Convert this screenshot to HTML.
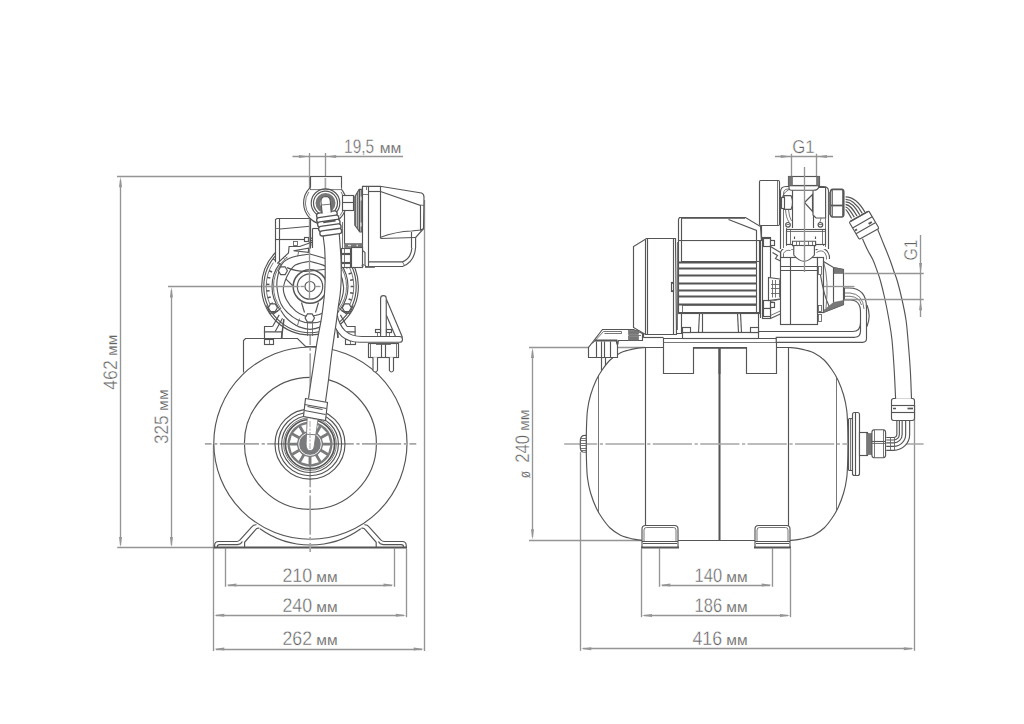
<!DOCTYPE html>
<html lang="ru"><head><meta charset="utf-8"><title>Габаритные размеры</title>
<style>
html,body{margin:0;padding:0;background:#fff}
svg{display:block}
.d{fill:none;stroke:#555;stroke-width:1.15}
.dw{fill:#fff;stroke:#555;stroke-width:1.15}
.dk{fill:#777;stroke:#666;stroke-width:.6}
.d2{fill:none;stroke:#555;stroke-width:2}
.d3{fill:none;stroke:#606060;stroke-width:.85}
.m{fill:none;stroke:#959595;stroke-width:1.35}
.c{fill:none;stroke:#a6a6a6;stroke-width:1.7;stroke-dasharray:39.2 2.6 3.2 2.4}
.a{fill:#959595;stroke:none}
.t{font-family:"Liberation Sans",sans-serif;fill:#626262;stroke:#fff;stroke-width:.4;paint-order:fill stroke;text-rendering:geometricPrecision}
.tu{stroke-width:.15}
</style></head><body>
<svg width="1024" height="724" viewBox="0 0 1024 724">
<rect width="1024" height="724" fill="#fff"/>
<g id="left-dims">
<line x1="117" y1="176.5" x2="310" y2="176.5" class="m" />
<line x1="117.25" y1="547.5" x2="215" y2="547.5" class="m" />
<line x1="120.5" y1="180" x2="120.5" y2="545" class="m" />
<polygon points="120.5,176.8 119.0,187.3 122.0,187.3" class="a"/>
<polygon points="120.5,547.6 119.0,537.1 122.0,537.1" class="a"/>
<text transform="translate(116.6 389.70) rotate(-90) scale(0.900 1)" class="t" font-size="19.6">462</text>
<text transform="translate(116.6 355.90) rotate(-90) scale(1.056 1)" class="t tu" font-size="14.6">мм</text>
<line x1="168" y1="286.5" x2="262" y2="286.5" class="m" />
<line x1="171.5" y1="290" x2="171.5" y2="545" class="m" />
<polygon points="171.4,287 169.9,297.5 172.9,297.5" class="a"/>
<polygon points="171.4,547.6 169.9,537.1 172.9,537.1" class="a"/>
<text transform="translate(167.75 444.05) rotate(-90) scale(0.875 1)" class="t" font-size="19.6">325</text>
<text transform="translate(167.75 410.90) rotate(-90) scale(1.086 1)" class="t tu" font-size="14.6">мм</text>
<line x1="309.5" y1="153" x2="309.5" y2="176.5" class="m" />
<line x1="325.5" y1="153" x2="325.5" y2="178" class="m" />
<line x1="292.5" y1="156.5" x2="403" y2="156.5" class="m" />
<polygon points="309.4,156.6 298.9,155.1 298.9,158.1" class="a"/>
<polygon points="325.7,156.6 336.2,155.1 336.2,158.1" class="a"/>
<text transform="translate(344.10 153.1) scale(0.786 1)" class="t" font-size="19.6">19,5</text>
<text transform="translate(379.70 153.1) scale(1.076 1)" class="t tu" font-size="14.6">мм</text>
<line x1="213.5" y1="444" x2="213.5" y2="651" class="m" />
<line x1="225.5" y1="548.5" x2="225.5" y2="586.8" class="m" />
<line x1="394.5" y1="548.5" x2="394.5" y2="586.8" class="m" />
<line x1="406.5" y1="548.5" x2="406.5" y2="617.2" class="m" />
<line x1="424.5" y1="200" x2="424.5" y2="651" class="m" />
<line x1="228" y1="585.5" x2="392" y2="585.5" class="m" />
<polygon points="225.9,585 236.4,583.5 236.4,586.5" class="a"/>
<polygon points="394,585 383.5,583.5 383.5,586.5" class="a"/>
<line x1="216" y1="615.5" x2="404" y2="615.5" class="m" />
<polygon points="213.8,615.3 224.3,613.8 224.3,616.8" class="a"/>
<polygon points="406.3,615.3 395.8,613.8 395.8,616.8" class="a"/>
<line x1="216" y1="649.5" x2="422" y2="649.5" class="m" />
<polygon points="213.8,649 224.3,647.5 224.3,650.5" class="a"/>
<polygon points="424.2,649 413.7,647.5 413.7,650.5" class="a"/>
<text transform="translate(282.50 581.6) scale(0.906 1)" class="t" font-size="19.6">210</text>
<text transform="translate(316.30 581.6) scale(1.061 1)" class="t tu" font-size="14.6">мм</text>
<text transform="translate(282.50 612.2) scale(0.906 1)" class="t" font-size="19.6">240</text>
<text transform="translate(316.30 612.2) scale(1.061 1)" class="t tu" font-size="14.6">мм</text>
<text transform="translate(282.50 645.2) scale(0.906 1)" class="t" font-size="19.6">262</text>
<text transform="translate(316.30 645.2) scale(1.061 1)" class="t tu" font-size="14.6">мм</text>
</g>
<g id="left-draw">
<path d="M243.5 372.5 L243.5 340.5 L245.5 338.5 L297.5 338.5 L305.5 346.5 L316.5 346.5" class="dw" />
<path d="M256.5 524.8 Q253.5 524.6 252.0 526.6 L239.8 540 Q238.6 541.5 236.5 541.5 L218.5 541.5 Q214.6 541.5 214.6 545.5 L214.6 547.5" class="d" />
<path d="M259.5 528.3 Q256.8 527.8 255.4 529.8 L244.6 542.3 L244.6 547.3" class="d" />
<path d="M217.2 547.3 Q217.2 544.6 219.5 544.6 L237.5 544.6 Q241.0 544.4 242.4 541.6" class="d" />
<path d="M364.3 524.8 Q367.3 524.6 368.8 526.6 L381.0 540 Q382.2 541.5 384.3 541.5 L402.3 541.5 Q406.2 541.5 406.2 545.5 L406.2 547.5" class="d" />
<path d="M361.3 528.3 Q364.0 527.8 365.4 529.8 L376.2 542.3 L376.2 547.3" class="d" />
<path d="M403.6 547.3 Q403.6 544.6 401.3 544.6 L383.3 544.6 Q379.8 544.4 378.4 541.6" class="d" />
<line x1="213.5" y1="547.5" x2="407" y2="547.5" class="d2" />
<path d="M260 528.75 A86.3 86.3 0 0 0 360.8 528.75" class="d" />
<ellipse cx="310.4" cy="443.1" rx="96.6" ry="96.1" class="dw"/>
<circle cx="310.4" cy="443.4" r="66" class="d" />
<line x1="204.9" y1="443.9" x2="416.3" y2="443.9" class="c" stroke-dashoffset="32.5"/>
<line x1="310.2" y1="552" x2="310.2" y2="178" class="c" stroke-dashoffset="30.1"/>
<circle cx="310" cy="444.1" r="35" class="d" />
<circle cx="310" cy="444.1" r="31.6" class="d" />
<circle cx="310" cy="444.1" r="28.4" class="d" />
<circle cx="310" cy="444.1" r="26.3" class="d3" />
<circle cx="310" cy="444.1" r="24.6" class="d" style="stroke-width:1.7"/>
<circle cx="310" cy="444.1" r="22.6" class="dk" style="stroke:none;fill:#7a7b7d"/>
<polygon points="323.02,445.55 330.25,445.55 328.26,452.97 322.00,449.35" fill="#fff"/>
<polygon points="320.55,451.87 326.81,455.48 321.38,460.91 317.77,454.65" fill="#fff"/>
<polygon points="315.25,456.10 318.87,462.36 311.45,464.35 311.45,457.12" fill="#fff"/>
<polygon points="308.55,457.12 308.55,464.35 301.13,462.36 304.75,456.10" fill="#fff"/>
<polygon points="302.23,454.65 298.62,460.91 293.19,455.48 299.45,451.87" fill="#fff"/>
<polygon points="298.00,449.35 291.74,452.97 289.75,445.55 296.98,445.55" fill="#fff"/>
<polygon points="296.98,442.65 289.75,442.65 291.74,435.23 298.00,438.85" fill="#fff"/>
<polygon points="299.45,436.33 293.19,432.72 298.62,427.29 302.23,433.55" fill="#fff"/>
<polygon points="304.75,432.10 301.13,425.84 308.55,423.85 308.55,431.08" fill="#fff"/>
<polygon points="311.45,431.08 311.45,423.85 318.87,425.84 315.25,432.10" fill="#fff"/>
<polygon points="317.77,433.55 321.38,427.29 326.81,432.72 320.55,436.33" fill="#fff"/>
<polygon points="322.00,438.85 328.26,435.23 330.25,442.65 323.02,442.65" fill="#fff"/>
<circle cx="310" cy="444.1" r="11.3" class="d" style="stroke:#fff;stroke-width:.9"/>
</g>
<g id="left-pump">
<circle cx="310" cy="286.5" r="48.4" class="dw" />
<circle cx="310" cy="286.5" r="46.2" class="d" />
<path d="M272.6 326.5 L279.2 314.9 M275.2 331.5 L282.5 318.2" class="d" />
<path d="M281.5 337.8 L283.9 319.2" class="d" style="stroke-width:1.5"/>
<path d="M347.0 326.5 L340.40000000000003 314.9 M344.40000000000003 331.5 L337.1 318.2" class="d" />
<path d="M338.1 337.8 L335.70000000000005 319.2" class="d" style="stroke-width:1.5"/>
<path d="M264.5 338 L264.5 326.5 L272.6 326.5 M263.8 331.8 L281.9 331.8 L281.9 338" class="d" />
<rect x="264.5" y="339.5" width="9.0" height="5.0" class="dw" />
<line x1="269.5" y1="339.8" x2="269.5" y2="344.1" class="d3" />
<path d="M355.1 338 L355.1 326.5 L347 326.5 M355.8 331.8 L337.7 331.8 L337.7 338" class="d" />
<rect x="345.5" y="339.5" width="10.0" height="5.0" class="dw" />
<line x1="350.5" y1="339.8" x2="350.5" y2="344.1" class="d3" />
<path d="M279.65 309.37 A38 38 0 0 1 279.65 263.63" class="d" />
<path d="M280.85 308.47 A36.5 36.5 0 0 1 280.85 264.53" class="d3" />
<path d="M273.27 310.36 A43.8 43.8 0 0 1 273.27 262.64" class="d3" />
<path d="M280.85 308.47 L273.10 314.30" class="d" />
<path d="M280.85 264.53 L273.10 258.70" class="d" />
<path d="M340.35 263.63 A38 38 0 0 1 340.35 309.37" class="d" />
<path d="M339.15 264.53 A36.5 36.5 0 0 1 339.15 308.47" class="d3" />
<path d="M346.73 262.64 A43.8 43.8 0 0 1 346.73 310.36" class="d3" />
<path d="M339.15 264.53 L346.90 258.70" class="d" />
<path d="M339.15 308.47 L346.90 314.30" class="d" />
<path d="M272.91 303.01 L269.99 304.32" class="d" style="stroke-width:1.5"/>
<path d="M270.78 297.01 L267.69 297.84" class="d" style="stroke-width:1.5"/>
<path d="M269.62 290.74 L266.44 291.08" class="d" style="stroke-width:1.5"/>
<path d="M269.46 284.38 L266.26 284.21" class="d" style="stroke-width:1.5"/>
<path d="M270.29 278.06 L267.16 277.39" class="d" style="stroke-width:1.5"/>
<path d="M272.10 271.95 L269.11 270.80" class="d" style="stroke-width:1.5"/>
<path d="M346.17 268.07 L349.03 266.62" class="d" style="stroke-width:1.5"/>
<path d="M348.61 273.95 L351.66 272.97" class="d" style="stroke-width:1.5"/>
<path d="M350.10 280.15 L353.26 279.65" class="d" style="stroke-width:1.5"/>
<path d="M350.60 286.50 L353.80 286.50" class="d" style="stroke-width:1.5"/>
<path d="M350.10 292.85 L353.26 293.35" class="d" style="stroke-width:1.5"/>
<path d="M348.61 299.05 L351.66 300.03" class="d" style="stroke-width:1.5"/>
<path d="M346.17 304.93 L349.03 306.38" class="d" style="stroke-width:1.5"/>
<path d="M280.70 310.23 C281.41 311.25 283.39 314.54 284.93 316.38 C286.47 318.21 287.57 319.48 289.95 321.23 C292.33 322.98 295.84 325.53 299.18 326.88 C302.52 328.22 306.39 329.30 310.00 329.30 C313.61 329.30 317.48 328.22 320.82 326.88 C324.16 325.53 327.67 322.98 330.05 321.23 C332.43 319.48 333.53 318.21 335.07 316.38 C336.61 314.54 338.59 311.25 339.30 310.23" class="d" />
<path d="M275.4 263.8 L275.4 219.5 L277 218 L310 218 L310 246.5 L289.1 246.5 L288.5 252.9 L277.25 263.8 Z" class="dw" style="stroke:none"/>
<path d="M275.5 262.2 L275.5 219.5 L277 218.5 L310 218.5" class="d" />
<line x1="279.5" y1="218.5" x2="279.5" y2="262" class="d" />
<path d="M280 229 L310 226.3" class="d" />
<line x1="275.4" y1="239.5" x2="304.75" y2="239.5" class="d" />
<line x1="275.4" y1="228.5" x2="280" y2="228.5" class="d3" />
<rect x="304.5" y="237.5" width="4.0" height="4.0" class="dw" />
<rect x="293.5" y="241.5" width="4.0" height="4.0" class="d3" />
<path d="M310.00 254.00 C307.17 254.51 297.60 255.50 293.00 257.06 C288.40 258.62 284.91 260.39 282.42 263.36 C279.93 266.33 278.97 271.01 278.05 274.87 C277.13 278.73 276.45 281.75 276.90 286.50 C277.35 291.25 278.91 299.00 280.73 303.40 C282.55 307.80 284.97 310.17 287.82 312.93 C290.67 315.69 294.13 318.29 297.82 319.95 C301.52 321.61 305.90 322.77 310.00 322.90 C314.10 323.03 318.27 322.59 322.45 320.70 C326.63 318.82 331.85 315.36 335.10 311.60 C338.35 307.84 340.55 302.31 341.95 298.13 C343.35 293.94 343.84 290.76 343.50 286.50 C343.16 282.24 341.96 276.77 339.91 272.55 C337.86 268.34 336.20 264.31 331.21 261.22 C326.23 258.13 313.54 255.20 310.00 254.00 Z" class="d" />
<path d="M310.00 261.30 C307.21 262.18 297.70 262.38 293.29 266.58 C288.87 270.78 284.61 280.93 283.50 286.50 C282.39 292.07 284.58 295.89 286.62 300.00 C288.66 304.11 292.72 308.54 295.75 311.18 C298.78 313.82 302.45 314.93 304.83 315.85 C307.20 316.77 306.68 317.33 310.00 316.70 C313.32 316.07 320.71 314.75 324.75 312.05 C328.79 309.35 332.21 304.76 334.25 300.50 C336.29 296.24 337.98 291.90 337.00 286.50 C336.02 281.10 332.88 272.32 328.38 268.12 C323.88 263.92 313.06 262.44 310.00 261.30 Z" class="d" />
<circle cx="310" cy="286.5" r="16.8" class="d" style="stroke-width:1.5"/>
<circle cx="310" cy="286.5" r="12.7" class="d" />
<circle cx="310" cy="286.5" r="5" class="d" />
<line x1="300.5" y1="286.5" x2="305" y2="286.5" class="m" />
<line x1="315" y1="286.5" x2="320.5" y2="286.5" class="m" />
<line x1="285.75" y1="278.9" x2="292.8" y2="285.75" class="d" />
<path d="M301.5 302.5 L304.5 312.5" class="d" />
<path d="M318.5 302.5 L315.5 312.5" class="d" />
<path d="M287 267.6 Q298 272.5 311 271 T325 269.3" class="d" />
<line x1="307.5" y1="323" x2="307.5" y2="336" class="d3" />
<line x1="312.5" y1="323" x2="312.5" y2="336" class="d3" />
<path d="M299.5 318.5 L297.5 325.5 L295.5 325.5" class="d3" />
<path d="M266.5 305.5 L270.3 313.5 L278 311" class="d" />
<path d="M353.3 305.5 L349.5 313.5 L341.8 311" class="d" />
<path d="M287.4 270.7 L285.15 274.6 L280.65 274.6 L278.4 270.7 L280.65 266.8 L285.15 266.8 Z" class="dw" />
<path d="M277.4 307.7 L275.15 311.6 L270.65 311.6 L268.4 307.7 L270.65 303.8 L275.15 303.8 Z" class="dw" />
<path d="M314.5 318.0 L312.15 322.07 L307.45 322.07 L305.1 318.0 L307.45 313.93 L312.15 313.93 Z" class="dw" />
<path d="M351.3 307.7 L349.05 311.6 L344.55 311.6 L342.3 307.7 L344.55 303.8 L349.05 303.8 Z" class="dw" />
<line x1="262" y1="286.5" x2="299.5" y2="286.5" class="m" />
<line x1="309.5" y1="176.5" x2="309.5" y2="300" class="m" />
<path d="M277.25 263.5 L288.5 252.9 L289.1 246.5 L299.75 246.5 L312.25 242 L312.25 245.5 L322 245.5" class="d" />
<path d="M279.3 265 L287.5 256.8" class="d3" />
<path d="M283.5 258 L285.5 260.5 M285.3 256.2 L287.3 258.7" class="d3" />
<path d="M293.5 250.8 L308.5 248.2 L308.5 252.3 Z" class="d" />
<path d="M298.5 252 L297.7 256.5" class="d3" />
<path d="M310.5 248.5 L310.5 188.5" class="d" />
<rect x="312.5" y="228.5" width="30.0" height="22.0" class="dw" style="stroke:none"/>
<line x1="344.5" y1="212" x2="344.5" y2="243.9" class="d" />
<line x1="342.5" y1="222" x2="342.5" y2="250" class="d3" />
<line x1="312.5" y1="228.5" x2="322" y2="228.5" class="d" />
<line x1="312.5" y1="228.5" x2="312.5" y2="248" class="d" />
<circle cx="325" cy="203.1" r="21.4" class="dw" />
<rect x="310.5" y="176.5" width="31.0" height="13.0" class="dw" />
<line x1="310.6" y1="188.5" x2="341.3" y2="188.5" class="d" style="stroke:#fff;stroke-width:1.6"/>
<line x1="325.4" y1="178" x2="325.4" y2="190" class="c" />
<path d="M309.99 215.70 A19.6 19.6 0 0 1 308.94 191.86" class="d3" />
<path d="M341.06 191.86 A19.6 19.6 0 0 1 340.01 215.70" class="d3" />
<circle cx="325.5" cy="203.1" r="14.3" class="d" />
<circle cx="325.5" cy="203.1" r="12" class="d" />
<circle cx="325.5" cy="203.1" r="7.8" class="d" style="stroke-width:4.4;stroke:#777"/>
<rect x="342.5" y="195.5" width="11.0" height="15.0" class="dw" />
<line x1="342.5" y1="202.5" x2="353.5" y2="202.5" class="d" />
</g>
<g id="left-ctrl">
<path d="M362.5 189.3 L359.2 189.3 L354.8 196.6 L354.8 225 L359.8 232 L362.5 232 Z" class="dw" style="fill:#c4c4c4"/>
<line x1="355.5" y1="195" x2="355.5" y2="226.5" class="d3" />
<line x1="357.5" y1="192" x2="357.5" y2="229" class="d3" />
<line x1="359.5" y1="189.5" x2="359.5" y2="231.5" class="d" style="stroke-width:1.4"/>
<line x1="361.5" y1="189.5" x2="361.5" y2="232" class="d3" />
<rect x="360.5" y="196.5" width="1.0" height="4.0" class="dw" style="stroke:none"/>
<rect x="360.5" y="222.5" width="1.0" height="4.0" class="dw" style="stroke:none"/>
<path d="M362.5 186.3 L380 186.3 L421.5 193 Q424 194 424 197 L423.5 228.75 L415.6 237.5 L415.6 247.5 Q414.5 262 402.5 266.5 L366 266.5 L365 265 L365 252.5 L362.5 250.5 Z" class="dw" />
<line x1="368.5" y1="186.3" x2="368.5" y2="266" class="d" />
<line x1="380.5" y1="186.3" x2="380.5" y2="238.3" class="d" />
<line x1="368.5" y1="191.5" x2="380" y2="191.5" class="d" />
<line x1="362.5" y1="194.5" x2="368.5" y2="194.5" class="d3" />
<path d="M380.5 191.5 L420.5 205.5 L420.5 230.5" class="d" />
<line x1="420.6" y1="205" x2="424" y2="205.5" class="d3" />
<path d="M380 237.5 Q396 231.5 411.5 231 L420.6 230 L423.5 228.75" class="d" />
<path d="M380.5 238.5 L415.5 237.5" class="d" />
<line x1="411.5" y1="232" x2="411.5" y2="248" class="d" />
<path d="M411.9 248 Q411 258.5 402.5 261.9 L368.75 261.9" class="d" />
<line x1="402.5" y1="261.9" x2="404.5" y2="265.7" class="d3" />
<line x1="366.5" y1="186.5" x2="366.5" y2="190" class="d3" />
<rect x="365.5" y="266.5" width="9.0" height="1.0" class="d3" />
<rect x="344.5" y="243.5" width="18.0" height="4.0" class="dk" />
<line x1="348" y1="245.5" x2="351" y2="245.5" class="d" style="stroke:#ddd;stroke-width:1.4"/>
<line x1="356.5" y1="245.5" x2="358" y2="245.5" class="d" style="stroke:#ddd;stroke-width:1.4"/>
<rect x="351.5" y="247.5" width="11.0" height="20.0" class="dw" />
<rect x="341.5" y="248.5" width="9.0" height="5.0" class="dw" />
<rect x="341.5" y="254.5" width="9.0" height="8.0" class="dw" />
<rect x="341.5" y="263.5" width="9.0" height="4.0" class="dw" />
<line x1="344.5" y1="248" x2="344.5" y2="267.5" class="d3" />
<circle cx="363" cy="265.3" r="1" class="d3" />
<path d="M380.6 337 L380.6 298.5 Q380.6 295.6 383.4 295.6 Q386.25 295.6 386.25 298.5 L386.25 337" class="dw" />
<path d="M386.5 299.5 L402.5 337.5" class="d" />
<path d="M386.5 315.5 L395.5 336.5" class="d" />
<rect x="375.5" y="329.5" width="5.0" height="3.0" class="dw" />
<rect x="386.5" y="329.5" width="5.0" height="3.0" class="dw" />
<line x1="377.5" y1="332" x2="377.5" y2="336.5" class="d3" />
<line x1="389.5" y1="332" x2="389.5" y2="336.5" class="d3" />
<path d="M337 314 Q341 336.5 362 336.5 L399.5 336.5 Q402.5 336.5 402.5 339.4 Q402.5 342.25 399.5 342.25 L360 342.25 Q337 342.25 332.5 318" class="dw" />
<rect x="368.5" y="343.5" width="30.0" height="14.0" class="dw" />
<line x1="370.5" y1="343" x2="370.5" y2="357.25" class="d3" />
<line x1="396.5" y1="343" x2="396.5" y2="357.25" class="d3" />
<line x1="381.5" y1="343" x2="381.5" y2="357.25" class="d" />
<line x1="385.5" y1="343" x2="385.5" y2="357.25" class="d" />
<rect x="376.5" y="343.5" width="14.0" height="1.0" class="d3" />
<path d="M373 357.25 L373 370.5 Q375.25 373.5 377.5 370.5 L377.5 357.25" class="dw" />
<path d="M389.4 357.25 L389.4 370.5 Q391.5 373.5 393.5 370.5 L393.5 357.25" class="dw" />
</g>
<g id="left-hose">
<path d="M322.30 222.00 C322.45 224.33 322.82 231.67 323.20 236.00 C323.58 240.33 324.28 244.17 324.60 248.00 C324.92 251.83 325.00 255.00 325.10 259.00 C325.20 263.00 325.20 268.17 325.20 272.00 C325.20 275.83 325.20 278.67 325.10 282.00 C325.00 285.33 324.88 288.33 324.60 292.00 C324.32 295.67 323.95 299.47 323.40 304.00 C322.85 308.53 321.98 314.87 321.30 319.20 C320.62 323.53 320.02 326.13 319.30 330.00 C318.58 333.87 317.63 338.73 317.00 342.40 C316.37 346.07 316.15 347.73 315.50 352.00 C314.85 356.27 313.81 363.33 313.10 368.00 C312.39 372.67 312.02 374.92 311.25 380.00 C310.48 385.08 308.96 395.42 308.50 398.50 L325.50 401.70 C326.00 398.08 327.77 385.62 328.50 380.00 C329.23 374.38 329.33 372.67 329.90 368.00 C330.47 363.33 331.33 356.27 331.90 352.00 C332.47 347.73 332.77 346.07 333.30 342.40 C333.83 338.73 334.53 333.87 335.10 330.00 C335.67 326.13 336.15 323.20 336.70 319.20 C337.25 315.20 337.82 310.20 338.40 306.00 C338.98 301.80 339.75 298.00 340.20 294.00 C340.65 290.00 340.93 286.00 341.10 282.00 C341.27 278.00 341.22 273.83 341.20 270.00 C341.18 266.17 341.15 262.67 341.00 259.00 C340.85 255.33 340.57 251.83 340.30 248.00 C340.03 244.17 339.70 240.33 339.40 236.00 C339.10 231.67 338.65 224.33 338.50 222.00 Z" class="dw" style="stroke:none"/>
<path d="M322.30 222.00 C322.45 224.33 322.82 231.67 323.20 236.00 C323.58 240.33 324.28 244.17 324.60 248.00 C324.92 251.83 325.00 255.00 325.10 259.00 C325.20 263.00 325.20 268.17 325.20 272.00 C325.20 275.83 325.20 278.67 325.10 282.00 C325.00 285.33 324.88 288.33 324.60 292.00 C324.32 295.67 323.95 299.47 323.40 304.00 C322.85 308.53 321.98 314.87 321.30 319.20 C320.62 323.53 320.02 326.13 319.30 330.00 C318.58 333.87 317.63 338.73 317.00 342.40 C316.37 346.07 316.15 347.73 315.50 352.00 C314.85 356.27 313.81 363.33 313.10 368.00 C312.39 372.67 312.02 374.92 311.25 380.00 C310.48 385.08 308.96 395.42 308.50 398.50" class="d" />
<path d="M325.50 401.70 C326.00 398.08 327.77 385.62 328.50 380.00 C329.23 374.38 329.33 372.67 329.90 368.00 C330.47 363.33 331.33 356.27 331.90 352.00 C332.47 347.73 332.77 346.07 333.30 342.40 C333.83 338.73 334.53 333.87 335.10 330.00 C335.67 326.13 336.15 323.20 336.70 319.20 C337.25 315.20 337.82 310.20 338.40 306.00 C338.98 301.80 339.75 298.00 340.20 294.00 C340.65 290.00 340.93 286.00 341.10 282.00 C341.27 278.00 341.22 273.83 341.20 270.00 C341.18 266.17 341.15 262.67 341.00 259.00 C340.85 255.33 340.57 251.83 340.30 248.00 C340.03 244.17 339.70 240.33 339.40 236.00 C339.10 231.67 338.65 224.33 338.50 222.00" class="d" />
<g transform="rotate(-8 329 224)">
<rect x="317.8" y="211.8" width="20.80000000000001" height="5.2" rx="2.5" class="dw" style="stroke-width:1.35"/>
<rect x="317.3" y="216.2" width="22.30000000000001" height="5.2" rx="2.5" class="dw" style="stroke-width:1.35"/>
<rect x="317.6" y="220.6" width="22.599999999999966" height="5.2" rx="2.5" class="dw" style="stroke-width:1.35"/>
<rect x="318" y="225.2" width="22.600000000000023" height="5.2" rx="2.5" class="dw" style="stroke-width:1.35"/>
<rect x="318.6" y="229.8" width="22.0" height="5.2" rx="2.5" class="dw" style="stroke-width:1.35"/>
<line x1="323.5" y1="221.5" x2="336" y2="221.5" class="d" style="stroke-width:1.7"/>
</g>
<path d="M322.2 213.5 L320.9 201.5 Q321 196.6 325.6 196.5 Q330 196.6 330.3 201 L331.2 212.5" class="dw" />
<line x1="321.3" y1="205" x2="330.4" y2="204.2" class="d3" />
<path d="M305.5 398.5 L327.5 402.5 L325.5 420.5 L303.5 416.5 Z" class="dw" />
<path d="M304.5 404.5 L326.5 408.5" class="d" />
<path d="M304.5 410.5 L325.5 414.5" class="d" />
<path d="M307.5 406.5 L322.5 409.5 Z" class="d" />
<path d="M307.2 418 L306.1 444 Q306.2 450.6 310.2 450.6 Q314.2 450.6 314.5 444 L317.9 420 Z" class="dw" style="stroke:none"/>
<path d="M307.2 418 L306.1 444 Q306.2 450.6 310.2 450.6 Q314.2 450.6 314.5 444 L317.9 420" class="d3" style="stroke:#777"/>
<line x1="306.3" y1="434.2" x2="315.6" y2="434.8" class="d3" />
<line x1="310" y1="421" x2="310" y2="449" class="c" style="stroke-width:1;stroke-dasharray:6 1.5 2 1.5"/>
</g>
<g id="right-dims">
<line x1="529" y1="347.5" x2="645" y2="347.5" class="m" />
<line x1="529" y1="540.5" x2="645" y2="540.5" class="m" />
<line x1="532.5" y1="351" x2="532.5" y2="537" class="m" />
<polygon points="532.5,347.6 531.0,358.1 534.0,358.1" class="a"/>
<polygon points="532.5,539.7 531.0,529.2 534.0,529.2" class="a"/>
<text transform="translate(529.4 462.80) rotate(-90) scale(0.852 1)" class="t" font-size="19.6">240</text>
<text transform="translate(529.4 430.90) rotate(-90) scale(1.071 1)" class="t tu" font-size="14.6">мм</text>
<text transform="translate(529.6 478.20) rotate(-90) scale(0.783 1)" class="t tu" font-size="15.5">ø</text>
<line x1="659.5" y1="548.5" x2="659.5" y2="586.8" class="m" />
<line x1="772.5" y1="548.5" x2="772.5" y2="586.8" class="m" />
<line x1="641.5" y1="548.5" x2="641.5" y2="617.2" class="m" />
<line x1="790.5" y1="548.5" x2="790.5" y2="617.2" class="m" />
<line x1="580.5" y1="452" x2="580.5" y2="650.8" class="m" />
<line x1="914.5" y1="405" x2="914.5" y2="650.8" class="m" />
<line x1="662" y1="585.5" x2="770" y2="585.5" class="m" />
<polygon points="659.8,585 670.3,583.5 670.3,586.5" class="a"/>
<polygon points="772.2,585 761.7,583.5 761.7,586.5" class="a"/>
<line x1="644" y1="615.5" x2="788" y2="615.5" class="m" />
<polygon points="641.5,615.5 652.0,614.0 652.0,617.0" class="a"/>
<polygon points="790.5,615.5 780.0,614.0 780.0,617.0" class="a"/>
<line x1="583" y1="648.5" x2="912" y2="648.5" class="m" />
<polygon points="580.8,648.75 591.3,647.25 591.3,650.25" class="a"/>
<polygon points="914.3,648.75 903.8,647.25 903.8,650.25" class="a"/>
<text transform="translate(694.60 581.6) scale(0.841 1)" class="t" font-size="19.6">140</text>
<text transform="translate(726.30 581.6) scale(1.061 1)" class="t tu" font-size="14.6">мм</text>
<text transform="translate(694.60 612.2) scale(0.841 1)" class="t" font-size="19.6">186</text>
<text transform="translate(726.30 612.2) scale(1.061 1)" class="t tu" font-size="14.6">мм</text>
<text transform="translate(692.50 645.2) scale(0.906 1)" class="t" font-size="19.6">416</text>
<text transform="translate(726.30 645.2) scale(1.061 1)" class="t tu" font-size="14.6">мм</text>
<line x1="791.5" y1="153.75" x2="791.5" y2="176.25" class="m" />
<line x1="816.5" y1="153.75" x2="816.5" y2="176.25" class="m" />
<line x1="775" y1="156.5" x2="833" y2="156.5" class="m" />
<polygon points="791.2,156.5 780.7,155.0 780.7,158.0" class="a"/>
<polygon points="816.5,156.5 827.0,155.0 827.0,158.0" class="a"/>
<text transform="translate(792.30 153) scale(0.907 1)" class="t" font-size="18.5">G1</text>
</g>
<g id="right-tank">
<rect x="601.5" y="357.5" width="4.0" height="21.0" class="dw" />
<clipPath id="tk"><path d="M645.00 347.50 C643.35 347.68 637.92 348.15 635.10 348.60 C632.28 349.05 630.60 349.47 628.10 350.20 C625.60 350.93 623.10 351.37 620.10 353.00 C617.10 354.63 613.10 357.17 610.10 360.00 C607.10 362.83 604.41 366.67 602.10 370.00 C599.79 373.33 598.17 375.83 596.25 380.00 C594.33 384.17 592.06 390.00 590.60 395.00 C589.14 400.00 588.18 404.67 587.50 410.00 C586.82 415.33 586.71 421.33 586.50 427.00 C586.29 432.67 586.25 438.33 586.25 444.00 C586.25 449.67 586.29 455.33 586.50 461.00 C586.71 466.67 586.82 472.67 587.50 478.00 C588.18 483.33 589.14 488.00 590.60 493.00 C592.06 498.00 594.33 503.83 596.25 508.00 C598.17 512.17 599.79 514.67 602.10 518.00 C604.41 521.33 607.10 525.17 610.10 528.00 C613.10 530.83 617.10 533.37 620.10 535.00 C623.10 536.63 625.60 537.07 628.10 537.80 C630.60 538.53 632.28 538.95 635.10 539.40 C637.92 539.85 643.35 540.32 645.00 540.50 L789.20 540.50 C790.85 540.32 796.28 539.85 799.10 539.40 C801.92 538.95 803.60 538.53 806.10 537.80 C808.60 537.07 811.10 536.63 814.10 535.00 C817.10 533.37 821.10 530.83 824.10 528.00 C827.10 525.17 829.79 521.33 832.10 518.00 C834.41 514.67 836.03 512.17 837.95 508.00 C839.87 503.83 842.14 498.00 843.60 493.00 C845.06 488.00 846.02 483.33 846.70 478.00 C847.38 472.67 847.49 466.67 847.70 461.00 C847.91 455.33 847.91 446.83 847.95 444.00 L847.95 444.00 C847.91 441.17 847.91 432.67 847.70 427.00 C847.49 421.33 847.38 415.33 846.70 410.00 C846.02 404.67 845.06 400.00 843.60 395.00 C842.14 390.00 839.87 384.17 837.95 380.00 C836.03 375.83 834.41 373.33 832.10 370.00 C829.79 366.67 827.10 362.83 824.10 360.00 C821.10 357.17 817.10 354.63 814.10 353.00 C811.10 351.37 808.60 350.93 806.10 350.20 C803.60 349.47 801.92 349.05 799.10 348.60 C796.28 348.15 790.85 347.68 789.20 347.50 Z"/></clipPath>
<path d="M645.00 347.50 C643.35 347.68 637.92 348.15 635.10 348.60 C632.28 349.05 630.60 349.47 628.10 350.20 C625.60 350.93 623.10 351.37 620.10 353.00 C617.10 354.63 613.10 357.17 610.10 360.00 C607.10 362.83 604.41 366.67 602.10 370.00 C599.79 373.33 598.17 375.83 596.25 380.00 C594.33 384.17 592.06 390.00 590.60 395.00 C589.14 400.00 588.18 404.67 587.50 410.00 C586.82 415.33 586.71 421.33 586.50 427.00 C586.29 432.67 586.25 438.33 586.25 444.00 C586.25 449.67 586.29 455.33 586.50 461.00 C586.71 466.67 586.82 472.67 587.50 478.00 C588.18 483.33 589.14 488.00 590.60 493.00 C592.06 498.00 594.33 503.83 596.25 508.00 C598.17 512.17 599.79 514.67 602.10 518.00 C604.41 521.33 607.10 525.17 610.10 528.00 C613.10 530.83 617.10 533.37 620.10 535.00 C623.10 536.63 625.60 537.07 628.10 537.80 C630.60 538.53 632.28 538.95 635.10 539.40 C637.92 539.85 643.35 540.32 645.00 540.50 L789.20 540.50 C790.85 540.32 796.28 539.85 799.10 539.40 C801.92 538.95 803.60 538.53 806.10 537.80 C808.60 537.07 811.10 536.63 814.10 535.00 C817.10 533.37 821.10 530.83 824.10 528.00 C827.10 525.17 829.79 521.33 832.10 518.00 C834.41 514.67 836.03 512.17 837.95 508.00 C839.87 503.83 842.14 498.00 843.60 493.00 C845.06 488.00 846.02 483.33 846.70 478.00 C847.38 472.67 847.49 466.67 847.70 461.00 C847.91 455.33 847.91 446.83 847.95 444.00 L847.95 444.00 C847.91 441.17 847.91 432.67 847.70 427.00 C847.49 421.33 847.38 415.33 846.70 410.00 C846.02 404.67 845.06 400.00 843.60 395.00 C842.14 390.00 839.87 384.17 837.95 380.00 C836.03 375.83 834.41 373.33 832.10 370.00 C829.79 366.67 827.10 362.83 824.10 360.00 C821.10 357.17 817.10 354.63 814.10 353.00 C811.10 351.37 808.60 350.93 806.10 350.20 C803.60 349.47 801.92 349.05 799.10 348.60 C796.28 348.15 790.85 347.68 789.20 347.50 Z" class="dw" />
<g clip-path="url(#tk)">
<line x1="598.5" y1="340" x2="598.5" y2="550" class="d3" />
<line x1="836.5" y1="340" x2="836.5" y2="550" class="d3" />
<line x1="645.5" y1="340" x2="645.5" y2="550" class="d" />
<line x1="788.5" y1="340" x2="788.5" y2="550" class="d" />
<line x1="719.5" y1="340" x2="719.5" y2="550" class="d2" />
</g>
<line x1="564.2" y1="444" x2="923.6" y2="444" class="c" stroke-dashoffset="6.2"/>
<path d="M586.25 435.25 L583 435.6 Q580.3 437 580.3 441 L580.3 447 Q580.3 451.5 583 452 L586.25 452.25 Z" class="dw" />
<line x1="581" y1="438.5" x2="586" y2="438.5" class="d3" />
<line x1="581" y1="440.5" x2="586" y2="440.5" class="d3" />
<line x1="581" y1="443.5" x2="586" y2="443.5" class="d3" />
<line x1="581" y1="445.5" x2="586" y2="445.5" class="d3" />
<line x1="581" y1="448.5" x2="586" y2="448.5" class="d3" />
<line x1="581" y1="450.5" x2="586" y2="450.5" class="d3" />
<path d="M642 547.5 L642 529 Q642 525.5 645.5 525.5 L674.5 525.5 Q678 525.5 678 529 L678 547.5 Z" class="dw" />
<path d="M644 541 L644 530 Q644 527.5 646.5 527.5 L673.5 527.5 Q676 527.5 676 530 L676 541" class="d3" />
<line x1="642" y1="541.5" x2="678" y2="541.5" class="d" />
<line x1="643" y1="543.5" x2="677" y2="543.5" class="d" />
<line x1="641" y1="547.5" x2="679" y2="547.5" class="d2" />
<path d="M755 547.5 L755 529 Q755 525.5 758.5 525.5 L786.5 525.5 Q790 525.5 790 529 L790 547.5 Z" class="dw" />
<path d="M757 541 L757 530 Q757 527.5 759.5 527.5 L785.5 527.5 Q788 527.5 788 530 L788 541" class="d3" />
<line x1="755" y1="541.5" x2="790" y2="541.5" class="d" />
<line x1="756" y1="543.5" x2="789" y2="543.5" class="d" />
<line x1="754" y1="547.5" x2="791" y2="547.5" class="d2" />
<rect x="848.5" y="418.5" width="4.0" height="52.0" class="dw" rx="1"/>
<line x1="850.5" y1="418" x2="850.5" y2="470" class="d3" />
<rect x="852.5" y="412.5" width="7.0" height="63.0" class="dw" rx="2"/>
<line x1="855.5" y1="412.5" x2="855.5" y2="475.4" class="d" />
<rect x="859.5" y="432.5" width="8.0" height="23.0" class="dw" />
<rect x="866.5" y="433.5" width="7.0" height="21.0" class="dk" />
<path d="M874 429.75 L883.5 429.75 Q885.6 430 885.6 432.5 L885.6 455 Q885.6 457.5 883.5 457.75 L874 457.75 Q871.9 457.5 871.9 455 L871.9 432.5 Q871.9 430 874 429.75 Z" class="dw" />
<line x1="871.9" y1="441.5" x2="885.6" y2="441.5" class="d" />
<line x1="871.9" y1="443.5" x2="885.6" y2="443.5" class="d3" />
<line x1="874.5" y1="430" x2="874.5" y2="457.5" class="d3" />
<line x1="883.5" y1="430" x2="883.5" y2="457.5" class="d3" />
<path d="M886.25 437.5 L893.75 437.5 A3.1 3.1 0 0 0 896.85 434.4 L896.85 420.6 L909.65 420.6 L909.65 434.4 A15.9 15.9 0 0 1 893.75 450.29999999999995 L886.25 450.29999999999995 Z" class="dw" style="stroke:none"/>
<path d="M886.25 437.50 L893.75 437.50 A3.1 3.1 0 0 0 896.85 434.4 L896.85 420.6" class="d" />
<path d="M886.25 440.00 L893.75 440.00 A5.6 5.6 0 0 0 899.35 434.4 L899.35 420.6" class="d" />
<path d="M886.25 442.80 L893.75 442.80 A8.4 8.4 0 0 0 902.15 434.4 L902.15 420.6" class="d" />
<path d="M886.25 446.30 L893.75 446.30 A11.9 11.9 0 0 0 905.65 434.4 L905.65 420.6" class="d" />
<path d="M886.25 450.30 L893.75 450.30 A15.9 15.9 0 0 0 909.65 434.4 L909.65 420.6" class="d" />
<line x1="894.5" y1="437.5" x2="894.5" y2="450.3" class="d3" />
<line x1="890.5" y1="437.5" x2="890.5" y2="450.3" class="d3" />
<rect x="891.5" y="398.5" width="23.0" height="22.0" class="dw" rx="2.2"/>
<line x1="891.3" y1="405.5" x2="914.9" y2="405.5" class="d" />
<line x1="891.3" y1="412.5" x2="914.9" y2="412.5" class="d" />
<line x1="893" y1="408.5" x2="896" y2="408.5" class="d" style="stroke-width:1.5"/>
<line x1="907.5" y1="408.5" x2="913" y2="408.5" class="d" style="stroke-width:1.7"/>
</g>
<g id="right-plug">
<path d="M588.5 357.5 L588.5 347.5 L602.5 329.5 L633.5 329.5 L642.5 333.5 L642.5 340.5 L618.5 340.5 L617.5 344.5 L617.5 357.5 Z" class="dw" />
<path d="M592.5 343.5 L603.5 331.5 L621.5 331.5 L621.5 333.5 L604.5 333.5" class="d3" />
<path d="M594.5 340.5 L616.5 340.5 L617.5 344.5" class="d2" />
<line x1="596.5" y1="341.5" x2="596.5" y2="357.5" class="d" />
<line x1="601.5" y1="341.5" x2="601.5" y2="357.5" class="d" />
<line x1="604.5" y1="341.5" x2="604.5" y2="357.5" class="d" />
<line x1="610.5" y1="341.5" x2="610.5" y2="357.5" class="d" />
<rect x="628.5" y="330.5" width="10.0" height="4.0" class="dk" />
<rect x="628.5" y="336.5" width="10.0" height="4.0" class="dk" />
<line x1="628.5" y1="335.5" x2="641" y2="335.5" class="d3" />
</g>
<g id="right-base">
<path d="M643.5 333.5 L682.5 333.5" class="d" />
<path d="M643.5 337.5 L663.5 337.5" class="d" />
<line x1="643.5" y1="333.75" x2="643.5" y2="337.7" class="d" />
<path d="M663.5 338.5 L776.5 338.5 L776.5 373.5 L746.5 373.5 L746.5 347.5 L693.5 347.5 L693.5 373.5 L663.5 373.5 Z" class="dw" />
<line x1="663.25" y1="342.5" x2="776.25" y2="342.5" class="d3" />
<line x1="693.75" y1="348.5" x2="746.25" y2="348.5" class="d3" />
<line x1="719.5" y1="347" x2="719.5" y2="374" class="d2" />
<path d="M867 305 Q871.3 315.5 867 326.5" class="d" />
<path d="M844.4 288 L849 288 Q866.5 288 866.5 308 L866.5 338.5 Q866.5 342.3 862.5 342.3 L776.25 342.3 L776.25 337.3 L855 337.3 Q860.5 337 860.5 331 L860.5 312 Q860.5 300 850 300 L844.4 300 Z" class="dw" />
<path d="M758.75 331.5 L852.5 331.5 Q860.5 331.5 860.5 323" class="d" />
<path d="M844.4 293 L850 293 Q863 294 864 309" class="d3" />
<path d="M844.4 296.3 L850 296.3 Q859.5 297 861.5 305" class="d3" />
</g>
<g id="right-motor">
<path d="M633.5 327.5 L633.5 246.5 L646.5 238.5 L675.5 238.5 L676.5 334.5 L645.5 334.5 Z" class="dw" />
<line x1="645.5" y1="239.5" x2="645.5" y2="334" class="d" />
<line x1="647.5" y1="238.75" x2="647.5" y2="334" class="d" />
<line x1="673.5" y1="238.75" x2="673.5" y2="334" class="d" />
<line x1="677.5" y1="242" x2="677.5" y2="330" class="d3" />
<rect x="671.5" y="282.5" width="2.0" height="9.0" class="dw" />
<rect x="678.5" y="240.5" width="81.0" height="73.0" class="dw" />
<path d="M678.5 240.5 L678.5 219.5 L679.5 217.5 L745.5 217.5 L760.5 226.5 L761.5 240.5 Z" class="dw" />
<line x1="681.5" y1="218" x2="681.5" y2="262" class="d" />
<path d="M728.5 219.5 L756.5 230.5 L756.5 240.5" class="d" />
<line x1="682" y1="218.5" x2="745" y2="218.5" class="d3" />
<line x1="681.9" y1="261.5" x2="759" y2="261.5" class="d" />
<line x1="756.5" y1="240" x2="756.5" y2="313" class="d" />
<line x1="679" y1="262.5" x2="757" y2="262.5" class="d" style="stroke-width:1.9"/>
<line x1="679" y1="268.5" x2="757" y2="268.5" class="d" style="stroke-width:1.9"/>
<line x1="679" y1="275.5" x2="757" y2="275.5" class="d" style="stroke-width:1.9"/>
<line x1="679" y1="283.5" x2="757" y2="283.5" class="d" style="stroke-width:1.9"/>
<line x1="679" y1="290.5" x2="757" y2="290.5" class="d" style="stroke-width:1.9"/>
<line x1="679" y1="296.5" x2="757" y2="296.5" class="d" style="stroke-width:1.9"/>
<line x1="679" y1="304.5" x2="757" y2="304.5" class="d" style="stroke-width:1.9"/>
<line x1="682" y1="305.5" x2="757" y2="305.5" class="d3" />
<line x1="678.75" y1="312.5" x2="760" y2="312.5" class="d" />
<line x1="682.5" y1="305.5" x2="682.5" y2="312" class="d3" />
<line x1="756.5" y1="305.5" x2="756.5" y2="312" class="d3" />
<rect x="681.5" y="313.5" width="77.0" height="19.0" class="dw" />
<rect x="682.5" y="332.5" width="76.0" height="6.0" class="dw" />
<path d="M699.5 313.5 L698.5 332.5" class="d" />
<path d="M702.5 313.5 L702.5 332.5" class="d" />
<path d="M737.5 313.5 L738.5 332.5" class="d" />
<path d="M740.5 313.5 L741.5 332.5" class="d" />
<rect x="682.5" y="327.5" width="8.0" height="5.0" class="dw" />
<rect x="750.5" y="327.5" width="8.0" height="5.0" class="dw" />
<line x1="699" y1="313.5" x2="740.5" y2="313.5" class="d3" />
</g>
<g id="right-pump">
<rect x="762.5" y="237.5" width="8.0" height="81.0" class="dw" />
<line x1="760.5" y1="240" x2="760.5" y2="318" class="d" />
<rect x="763.5" y="238.5" width="7.0" height="8.0" class="dw" />
<rect x="770.5" y="240.5" width="4.0" height="5.0" class="dw" />
<rect x="763.5" y="300.5" width="7.0" height="8.0" class="dw" />
<rect x="770.5" y="302.5" width="4.0" height="5.0" class="dw" />
<rect x="763.5" y="308.5" width="7.0" height="8.0" class="dw" />
<path d="M768.5 277.5 L783.5 279.5 L783.5 298.5 L768.5 300.5 Z" class="dw" />
<line x1="772.5" y1="280" x2="772.5" y2="297.5" class="d3" />
<line x1="775.5" y1="280" x2="775.5" y2="297.5" class="d3" />
<line x1="779.5" y1="280" x2="779.5" y2="297.5" class="d3" />
<line x1="771" y1="284.5" x2="780" y2="284.5" class="d3" />
<line x1="771" y1="288.5" x2="780" y2="288.5" class="d3" />
<line x1="771" y1="293.5" x2="780" y2="293.5" class="d3" />
<path d="M770.5 246.5 L780.5 252.5 L780.5 258.5" class="d" />
<path d="M772.5 252.5 L777.5 255.5 L775.5 258.5 L781.5 261.5" class="d" />
<path d="M770.5 318.5 L783.5 312.5 L790.5 312.5" class="d" />
<path d="M770.5 315.5 L783.5 309.5" class="d3" />
<path d="M770.5 301.5 L783.5 298.5" class="d3" />
<line x1="783.5" y1="298.5" x2="783.5" y2="312.5" class="d" />
<rect x="780.5" y="257.5" width="37.0" height="67.0" class="dw" />
<line x1="790.5" y1="257.5" x2="790.5" y2="324" class="d" />
<line x1="780.6" y1="266.5" x2="817.5" y2="266.5" class="d" />
<line x1="780.6" y1="270.5" x2="817.5" y2="270.5" class="d" />
<rect x="817.5" y="257.5" width="6.0" height="55.0" class="dw" />
<rect x="818.5" y="266.5" width="3.0" height="8.0" class="d3" />
<rect x="818.5" y="305.5" width="3.0" height="6.0" class="d3" />
<rect x="818.5" y="314.5" width="3.0" height="7.0" class="d3" />
<path d="M823.5 261.5 L833.5 267.5 L843.5 269.5 L843.5 304.5 L823.5 312.5 Z" class="dw" />
<path d="M833.5 267.5 L843.5 269.5 L843.5 273.5 L833.5 273.5 Z" class="dk" />
<path d="M823.5 312.5 L843.5 304.5 L843.5 300.5 L833.5 302.5 L823.5 310.5 Z" class="dk" />
<line x1="833.5" y1="267.5" x2="833.5" y2="302.5" class="d" />
<path d="M820.5 275 Q824 296 829 306" class="d" />
<path d="M823.75 262.5 Q829 280 826 308" class="d3" />
<line x1="823.75" y1="286.5" x2="854.4" y2="286.5" class="m" />
<path d="M780.6 257.5 L780.6 252 Q783 246.5 790 247 L792.5 250" class="d" />
<path d="M783.5 257.5 L783.5 253.5 Q785.5 249.5 790.5 250.5" class="d3" />
<path d="M815.6 250 Q822 245.5 827 251 Q830 255 829.4 259" class="d" />
<path d="M816.5 252.5 Q821.5 249 825 253 Q827 256 826.5 259.5" class="d3" />
<path d="M780.5 249 L780.5 192 Q780.5 186.5 786 186.5 L823 186.5 Q828.5 186.5 828.5 191 L828.5 249" class="dw" />
<path d="M783.5 248 L783.5 194 Q783.5 189 788 189 L789 189" class="d3" />
<line x1="825.5" y1="217.5" x2="825.5" y2="247" class="d3" />
<line x1="786.5" y1="228" x2="786.5" y2="246" class="d3" />
<line x1="823.5" y1="241" x2="823.5" y2="246" class="d3" />
<path d="M781.5 205 Q780.8 193.5 789 189.6" class="d3" />
<rect x="786.5" y="229.5" width="39.0" height="15.0" class="dw" />
<line x1="786.8" y1="231.5" x2="825.9" y2="231.5" class="d3" />
<line x1="790.5" y1="229.6" x2="790.5" y2="244.5" class="d3" />
<line x1="822.5" y1="229.6" x2="822.5" y2="244.5" class="d3" />
<circle cx="788" cy="224.8" r="2.3" class="dw" />
<circle cx="820.4" cy="224.8" r="2.3" class="dw" />
<line x1="786.5" y1="224.5" x2="789.5" y2="224.5" class="d3" />
<line x1="818.9" y1="224.5" x2="821.9" y2="224.5" class="d3" />
<line x1="794.5" y1="236.5" x2="794.5" y2="239" class="d" />
<line x1="815.5" y1="236.5" x2="815.5" y2="239" class="d" />
<path d="M792.5 241.25 L815.6 241.25 L815.6 245.6 L814.4 245.6 L814.4 255 Q804 267.5 793.75 255 L793.75 245.6 L792.5 245.6 Z" class="dw" />
<line x1="793.75" y1="245.5" x2="814.4" y2="245.5" class="d" />
<line x1="796.5" y1="241.25" x2="796.5" y2="245.6" class="d3" />
<line x1="799.5" y1="241.25" x2="799.5" y2="245.6" class="d3" />
<line x1="808.5" y1="241.25" x2="808.5" y2="245.6" class="d3" />
<line x1="812.5" y1="241.25" x2="812.5" y2="245.6" class="d3" />
<rect x="792.5" y="190.5" width="21.0" height="38.0" class="dw" style="stroke:none"/>
<line x1="792.5" y1="190" x2="792.5" y2="228" class="d" />
<line x1="813.5" y1="215" x2="813.5" y2="228" class="d" />
<path d="M813 187.5 L825.6 187.5 L825.6 218 L816 218 L813 215 Z" class="dw" />
<path d="M804.5 202.5 L812.5 194.5 L812.5 211.5 Z" class="dw" />
<path d="M784 195.6 L791 195.6 Q794 202.5 791 209.4 L784 209.4 Z" class="dw" />
<rect x="781.5" y="197.5" width="3.0" height="11.0" class="dw" />
<path d="M785.5 209.4 Q786 218 789 222" class="d3" />
<path d="M788.5 209.4 Q789 217 791.5 221" class="d3" />
<path d="M821 218 Q820.5 221 819.5 223" class="d3" />
<path d="M789 185.6 L818.75 185.6 L818.75 187.5 Q817.5 190.25 814 190.25 L791 190.25 Q789 190 789 188 Z" class="dw" />
<rect x="788.5" y="176.5" width="31.0" height="9.0" class="dw" />
<rect x="788.5" y="176.5" width="4.0" height="9.0" class="dk" />
<rect x="816.5" y="176.5" width="3.0" height="9.0" class="dk" />
<line x1="804.5" y1="167" x2="804.5" y2="272" class="m" />
<rect x="759.5" y="180.5" width="20.0" height="45.0" class="dw" rx="1.2"/>
<line x1="777.5" y1="181" x2="777.5" y2="225" class="d3" />
<path d="M761.5 225.5 L761.5 240.5" class="d" />
<path d="M832.6 189.4 L841.7 189.4 Q843.75 189.6 843.75 192 L843.75 214.5 Q843.75 216.8 841.7 217 L832.6 217 Q830.6 216.8 830.6 214.5 L830.6 192 Q830.6 189.6 832.6 189.4 Z" class="dw" style="stroke-width:1.6"/>
<line x1="830.6" y1="205.5" x2="843.75" y2="205.5" class="d" style="stroke-width:1.7"/>
<line x1="832.5" y1="189.6" x2="832.5" y2="216.8" class="d3" />
<line x1="842.5" y1="189.6" x2="842.5" y2="216.8" class="d3" />
<rect x="828.5" y="192.5" width="2.0" height="22.0" class="dk" />
</g>
<g id="right-hose">
<path d="M862.50 238.80 C863.35 240.67 865.85 246.47 867.60 250.00 C869.35 253.53 871.43 256.58 873.00 260.00 C874.57 263.42 875.75 267.00 877.00 270.50 C878.25 274.00 879.17 276.17 880.50 281.00 C881.83 285.83 883.58 293.00 885.00 299.50 C886.42 306.00 887.83 313.25 889.00 320.00 C890.17 326.75 891.13 331.67 892.00 340.00 C892.87 348.33 893.60 360.21 894.20 370.00 C894.80 379.79 895.37 393.96 895.60 398.75 L911.50 398.75 C911.30 393.96 910.88 379.79 910.30 370.00 C909.72 360.21 908.72 348.33 908.00 340.00 C907.28 331.67 907.00 326.75 906.00 320.00 C905.00 313.25 903.45 306.00 902.00 299.50 C900.55 293.00 898.70 285.83 897.30 281.00 C895.90 276.17 894.82 274.00 893.60 270.50 C892.38 267.00 891.60 264.25 890.00 260.00 C888.40 255.75 886.07 250.13 884.00 245.00 C881.93 239.87 878.67 231.83 877.60 229.20 Z" class="dw" style="stroke:none"/>
<path d="M862.50 238.80 C863.35 240.67 865.85 246.47 867.60 250.00 C869.35 253.53 871.43 256.58 873.00 260.00 C874.57 263.42 875.75 267.00 877.00 270.50 C878.25 274.00 879.17 276.17 880.50 281.00 C881.83 285.83 883.58 293.00 885.00 299.50 C886.42 306.00 887.83 313.25 889.00 320.00 C890.17 326.75 891.13 331.67 892.00 340.00 C892.87 348.33 893.60 360.21 894.20 370.00 C894.80 379.79 895.37 393.96 895.60 398.75" class="d" />
<path d="M911.50 398.75 C911.30 393.96 910.88 379.79 910.30 370.00 C909.72 360.21 908.72 348.33 908.00 340.00 C907.28 331.67 907.00 326.75 906.00 320.00 C905.00 313.25 903.45 306.00 902.00 299.50 C900.55 293.00 898.70 285.83 897.30 281.00 C895.90 276.17 894.82 274.00 893.60 270.50 C892.38 267.00 891.60 264.25 890.00 260.00 C888.40 255.75 886.07 250.13 884.00 245.00 C881.93 239.87 878.67 231.83 877.60 229.20" class="d" />
<path d="M845.5 196.8 Q856.4 196.8 865 212.3 L851.6 218.5 L845.9 209.6 Z" class="dw" style="stroke:none"/>
<path d="M845.6 196.80 Q856.35 196.80 865.00 212.30" class="d" style="stroke-width:1.3"/>
<path d="M845.6 199.36 Q854.41 199.36 862.32 213.54" class="d" style="stroke-width:1.3"/>
<path d="M845.6 201.92 Q852.47 201.92 859.64 214.78" class="d" style="stroke-width:1.3"/>
<path d="M845.6 204.48 Q850.52 204.48 856.96 216.02" class="d" style="stroke-width:1.3"/>
<path d="M845.6 207.04 Q848.58 207.04 854.28 217.26" class="d" style="stroke-width:1.3"/>
<path d="M845.6 209.60 Q846.64 209.60 851.60 218.50" class="d" style="stroke-width:1.3"/>
<path d="M850.3 221.4 L867.8 211.6 Q868.9 211 869.5 212.1 L878.4 227.2 Q879 228.3 877.9 228.9 L860.3 238.7 Q859.2 239.3 858.6 238.2 L849.7 223 Q849.2 222 850.3 221.4 Z" class="dw" />
<path d="M852.6 227.9 L872.2 216.8 M856 233.7 L875.7 222.6" class="d" />
<path d="M855 230.5 L857 229.4" class="d" style="stroke-width:1.8"/>
<path d="M868.6 223.8 L871.8 222" class="d" style="stroke-width:1.9"/>
<path d="M850.3 221.4 L867.8 211.6" class="d" style="stroke-width:1.6"/>
</g>
<g id="right-dims2">
<line x1="844.4" y1="273.5" x2="923.75" y2="273.5" class="m" />
<line x1="844.4" y1="299.5" x2="923.75" y2="299.5" class="m" />
<line x1="920.5" y1="235" x2="920.5" y2="317" class="m" />
<polygon points="920.6,273.5 919.1,263.0 922.1,263.0" class="a"/>
<polygon points="920.6,299.8 919.1,310.3 922.1,310.3" class="a"/>
<text transform="translate(917.4 260.60) rotate(-90) scale(0.854 1)" class="t" font-size="18.5">G1</text>
</g>
</svg>
</body></html>
